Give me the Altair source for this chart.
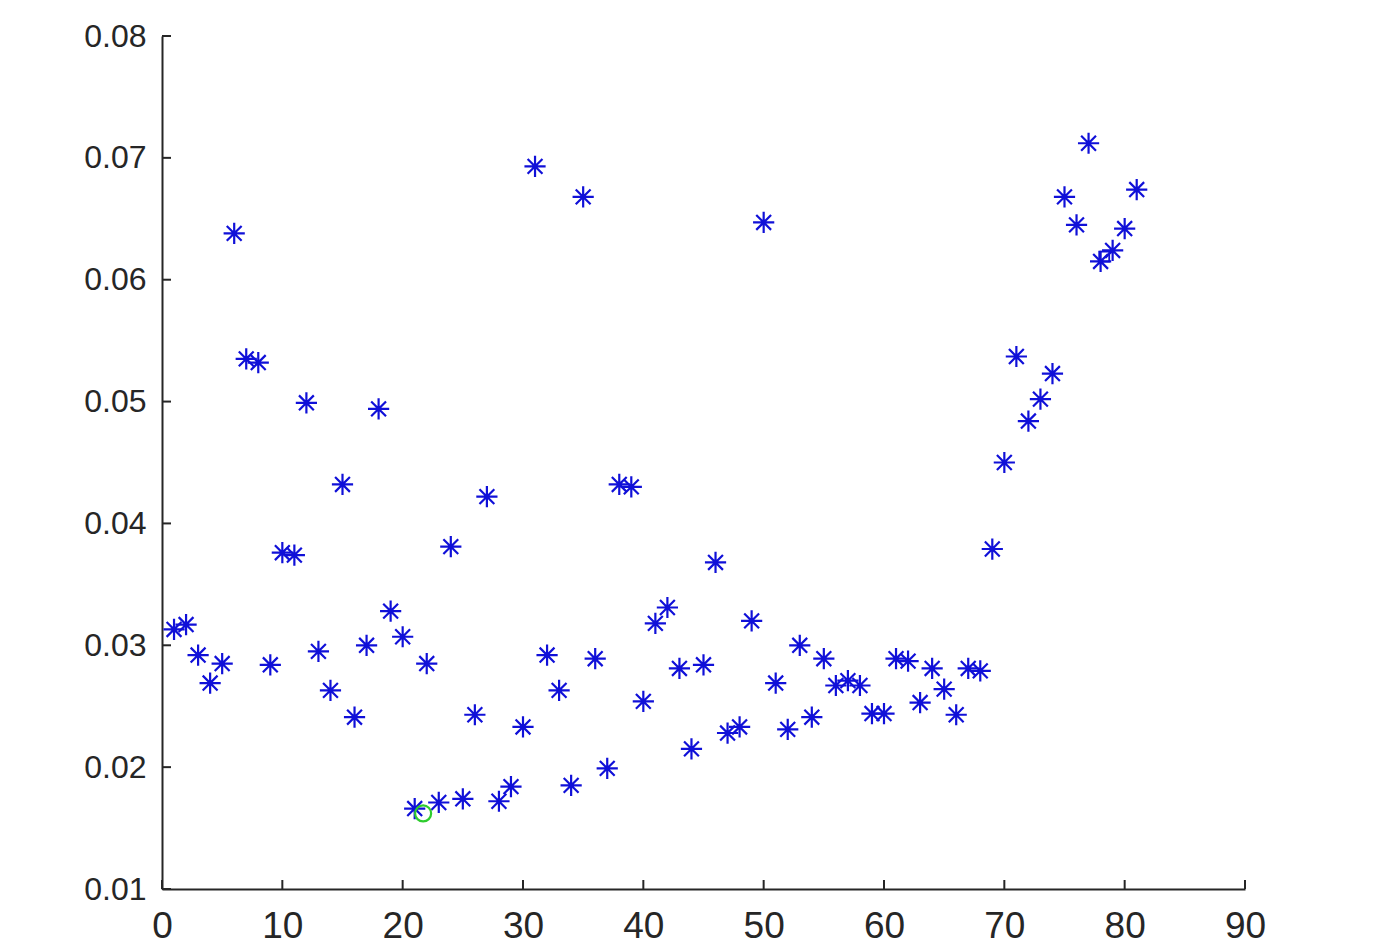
import altair as alt
import pandas as pd

# --- data ---
idx = [1, 2, 3, 4, 5, 6, 7, 8, 9, 10, 11, 12, 13, 14, 15, 16, 17, 18, 19, 20,
       21, 22, 23, 24, 25, 26, 27, 28, 29, 30, 31, 32, 33, 34, 35, 36, 37, 38, 39, 40,
       41, 42, 43, 44, 45, 46, 47, 48, 49, 50, 51, 52, 53, 54, 55, 56, 57, 58, 59, 60,
       61, 62, 63, 64, 65, 66, 67, 68, 69, 70, 71, 72, 73, 74, 75, 76, 77, 78, 79, 80, 81]
vals = [0.0313, 0.0317, 0.0292, 0.0269, 0.0285, 0.0638, 0.0535, 0.0532, 0.0284, 0.0376,
        0.0374, 0.0499, 0.0295, 0.0263, 0.0432, 0.0241, 0.0300, 0.0494, 0.0328, 0.0307,
        0.0166, 0.0285, 0.0171, 0.0381, 0.0174, 0.0243, 0.0422, 0.0172, 0.0184, 0.0233,
        0.0693, 0.0292, 0.0263, 0.0185, 0.0668, 0.0289, 0.0199, 0.0432, 0.0430, 0.0254,
        0.0318, 0.0331, 0.0281, 0.0215, 0.0284, 0.0368, 0.0228, 0.0233, 0.0320, 0.0647,
        0.0269, 0.0231, 0.0300, 0.0241, 0.0289, 0.0267, 0.0271, 0.0267, 0.0244, 0.0244,
        0.0289, 0.0287, 0.0253, 0.0281, 0.0264, 0.0243, 0.0281, 0.0279, 0.0379, 0.0450,
        0.0537, 0.0484, 0.0502, 0.0523, 0.0668, 0.0645, 0.0712, 0.0615, 0.0624, 0.0642, 0.0674]

square_x = [78.3]
square_y = [0.0619]

circle_x = [21.7]
circle_y = [0.0162]

x_ticks = [0, 10, 20, 30, 40, 50, 60, 70, 80, 90]
y_ticks = [0.01, 0.02, 0.03, 0.04, 0.05, 0.06, 0.07, 0.08]

W, H = 1083, 853
AXIS_COLOR = "#262626"
BLUE = "#1010d8"
GREEN = "#2ecc2e"
ASTERISK = "M-1,0L1,0M0,-1L0,1M-0.7,-0.7L0.7,0.7M-0.7,0.7L0.7,-0.7"

df = pd.DataFrame({"x": idx, "y": vals})
df_sq = pd.DataFrame({"x": square_x, "y": square_y})
df_c = pd.DataFrame({"x": circle_x, "y": circle_y})
df_xt = pd.DataFrame({"x": x_ticks})
df_yt = pd.DataFrame({"y": y_ticks})

xscale = alt.Scale(domain=[0, 90], nice=False, zero=False)
yscale = alt.Scale(domain=[0.01, 0.08], nice=False, zero=False)

xaxis = alt.Axis(values=x_ticks, format="d", title=None, grid=False, ticks=False,
                 domainColor=AXIS_COLOR, domainWidth=2, labelColor=AXIS_COLOR,
                 labelFont="Liberation Sans", labelFontSize=37,
                 labelPadding=19, labelFlush=False, labelOverlap=False)
yaxis = alt.Axis(values=y_ticks, format=".2f", title=None, grid=False, ticks=False,
                 domainColor=AXIS_COLOR, domainWidth=2, labelColor=AXIS_COLOR,
                 labelFont="Liberation Sans", labelFontSize=32,
                 labelPadding=16, labelFlush=False, labelOverlap=False)

stars = alt.Chart(df).mark_point(
    shape=ASTERISK, size=450, filled=False, stroke=BLUE, strokeWidth=2.2, opacity=1
).encode(
    x=alt.X("x:Q", scale=xscale, axis=xaxis),
    y=alt.Y("y:Q", scale=yscale, axis=yaxis),
)

squares = alt.Chart(df_sq).mark_point(
    shape="square", size=100, filled=False, stroke=BLUE, strokeWidth=1.8, opacity=1
).encode(x=alt.X("x:Q", scale=xscale), y=alt.Y("y:Q", scale=yscale))

circles = alt.Chart(df_c).mark_point(
    shape="circle", size=256, filled=False, stroke=GREEN, strokeWidth=2.2, opacity=1
).encode(x=alt.X("x:Q", scale=xscale), y=alt.Y("y:Q", scale=yscale))

xticks = alt.Chart(df_xt).mark_rule(color=AXIS_COLOR, strokeWidth=2).encode(
    x=alt.X("x:Q", scale=xscale), y=alt.value(H), y2=alt.value(H - 9)
)
yticks = alt.Chart(df_yt).mark_rule(color=AXIS_COLOR, strokeWidth=2).encode(
    y=alt.Y("y:Q", scale=yscale), x=alt.value(0), x2=alt.value(9)
)

chart = alt.layer(xticks, yticks, stars, squares, circles).properties(
    width=W, height=H,
    autosize=alt.AutoSizeParams(type="none"),
    padding={"left": 154, "top": 28, "right": 110, "bottom": 70},
    background="white",
).configure_view(stroke=None)

chart.save("out.html", embed_options={"renderer": "svg", "actions": False})
